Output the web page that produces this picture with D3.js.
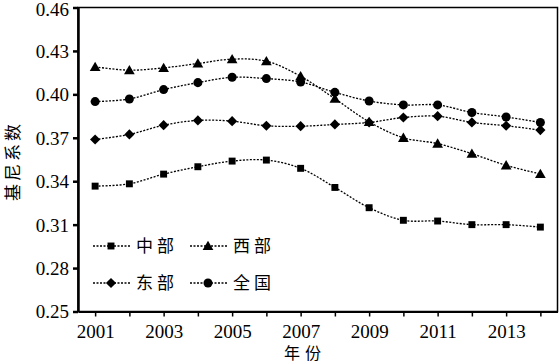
<!DOCTYPE html>
<html><head><meta charset="utf-8">
<script src="https://cdn.jsdelivr.net/npm/d3@7"></script>
<style>body{margin:0;background:#fff}svg{display:block}</style>
</head><body>
<script>
const years = [2001,2002,2003,2004,2005,2006,2007,2008,2009,2010,2011,2012,2013,2014];
const central = [0.3366,0.3382,0.3449,0.3500,0.3539,0.3546,0.3489,0.3357,0.3217,0.3130,0.3125,0.3100,0.3100,0.3083];
const western = [0.4190,0.4167,0.4183,0.4213,0.4243,0.4229,0.4125,0.3970,0.3810,0.3700,0.3660,0.3590,0.3510,0.3450];
const eastern = [0.3688,0.3723,0.3787,0.3820,0.3815,0.3783,0.3780,0.3792,0.3806,0.3840,0.3849,0.3806,0.3783,0.3753];
const national = [0.3950,0.3968,0.4033,0.4081,0.4118,0.4109,0.4085,0.4014,0.3954,0.3927,0.3927,0.3875,0.3844,0.3806];
const yTicks = [0.25,0.28,0.31,0.34,0.37,0.40,0.43,0.46];
const xTickLabels = [2001,2003,2005,2007,2009,2011,2013];
const seriesNames = ["中部","西部","东部","全国"];
const symbols = ["square","triangle","diamond","circle"];

const W=560,H=364;
const m={l:78,r:2.5,t:7.5,b:52.5};
const svg=d3.select("body").append("svg").attr("width",W).attr("height",H);
const x=d3.scaleLinear().domain([2000.5,2014.5]).range([m.l,W-m.r]);
const y=d3.scaleLinear().domain([0.25,0.46]).range([H-m.b,m.t]);

svg.append("rect").attr("x",m.l).attr("y",m.t).attr("width",W-m.r-m.l).attr("height",H-m.b-m.t)
  .attr("fill","none").attr("stroke","#000").attr("stroke-width",1.5);

const serif="'Liberation Serif','Times New Roman',serif";
const cjk="'Noto Sans CJK SC',sans-serif";

const ya=svg.append("g").attr("transform",`translate(${m.l},0)`)
  .call(d3.axisLeft(y).tickValues(yTicks).tickFormat(d3.format(".2f")).tickSize(5).tickSizeOuter(0));
ya.select(".domain").attr("stroke-width",2.5);
ya.selectAll(".tick line").attr("stroke-width",2.5);
ya.selectAll("text").attr("font-family",serif).attr("font-size",19).attr("x",-9)
  .attr("dy",d=>d===0.46?"0.42em":"0.34em").attr("fill","#000");

const xa=svg.append("g").attr("transform",`translate(0,${H-m.b})`)
  .call(d3.axisBottom(x).tickValues(years).tickFormat(d=>xTickLabels.includes(d)?d:"").tickSize(5).tickSizeOuter(0));
xa.select(".domain").attr("stroke-width",2);
xa.selectAll(".tick line").attr("stroke-width",1.5);
xa.selectAll("text").attr("font-family",serif).attr("font-size",19).attr("dy","0.95em").attr("fill","#000");

svg.append("text").attr("transform","translate(19,161) rotate(-90)").attr("text-anchor","middle")
  .attr("font-family",cjk).attr("font-size",17).attr("letter-spacing",3).text("基尼系数");
svg.append("text").attr("x",305).attr("y",359).attr("text-anchor","middle")
  .attr("font-family",cjk).attr("font-size",16).attr("letter-spacing",5).text("年份");

const symMap={square:d3.symbolSquare,triangle:d3.symbolTriangle,diamond:d3.symbolSquare,circle:d3.symbolCircle};
const symSize={square:48,triangle:50,diamond:52,circle:64};
const symRot={square:0,triangle:0,diamond:45,circle:0};
const data=[central,western,eastern,national];

const line=d3.line().x((d,i)=>x(years[i])).y(d=>y(d)).curve(d3.curveCatmullRom.alpha(0.5));
data.forEach((vals,k)=>{
  svg.append("path").attr("d",line(vals)).attr("fill","none").attr("stroke","#000")
    .attr("stroke-width",1.3).attr("stroke-dasharray","2,1.5");
  const s=symbols[k];
  svg.selectAll(null).data(vals).enter().append("path")
    .attr("d",d3.symbol().type(symMap[s]).size(symSize[s]))
    .attr("transform",(d,i)=>`translate(${x(years[i])},${y(d)+(s==="triangle"?1:0)}) rotate(${symRot[s]})`)
    .attr("fill","#000");
});

const legPos=[[93,246],[190,246],[93,283],[190,283]];
seriesNames.forEach((n,k)=>{
  const [lx,ly]=legPos[k];
  const g=svg.append("g");
  g.append("line").attr("x1",lx).attr("x2",lx+37).attr("y1",ly).attr("y2",ly)
    .attr("stroke","#000").attr("stroke-width",1.3).attr("stroke-dasharray","2,1.5");
  const s=symbols[k];
  g.append("path").attr("d",d3.symbol().type(symMap[s]).size(symSize[s]))
    .attr("transform",`translate(${lx+18},${ly+(s==="triangle"?1:0)}) rotate(${symRot[s]})`).attr("fill","#000");
  g.append("text").attr("x",lx+43).attr("y",ly+6).attr("font-family",cjk).attr("font-size",17)
    .attr("letter-spacing",4).text(n);
});
</script>
</body></html>
